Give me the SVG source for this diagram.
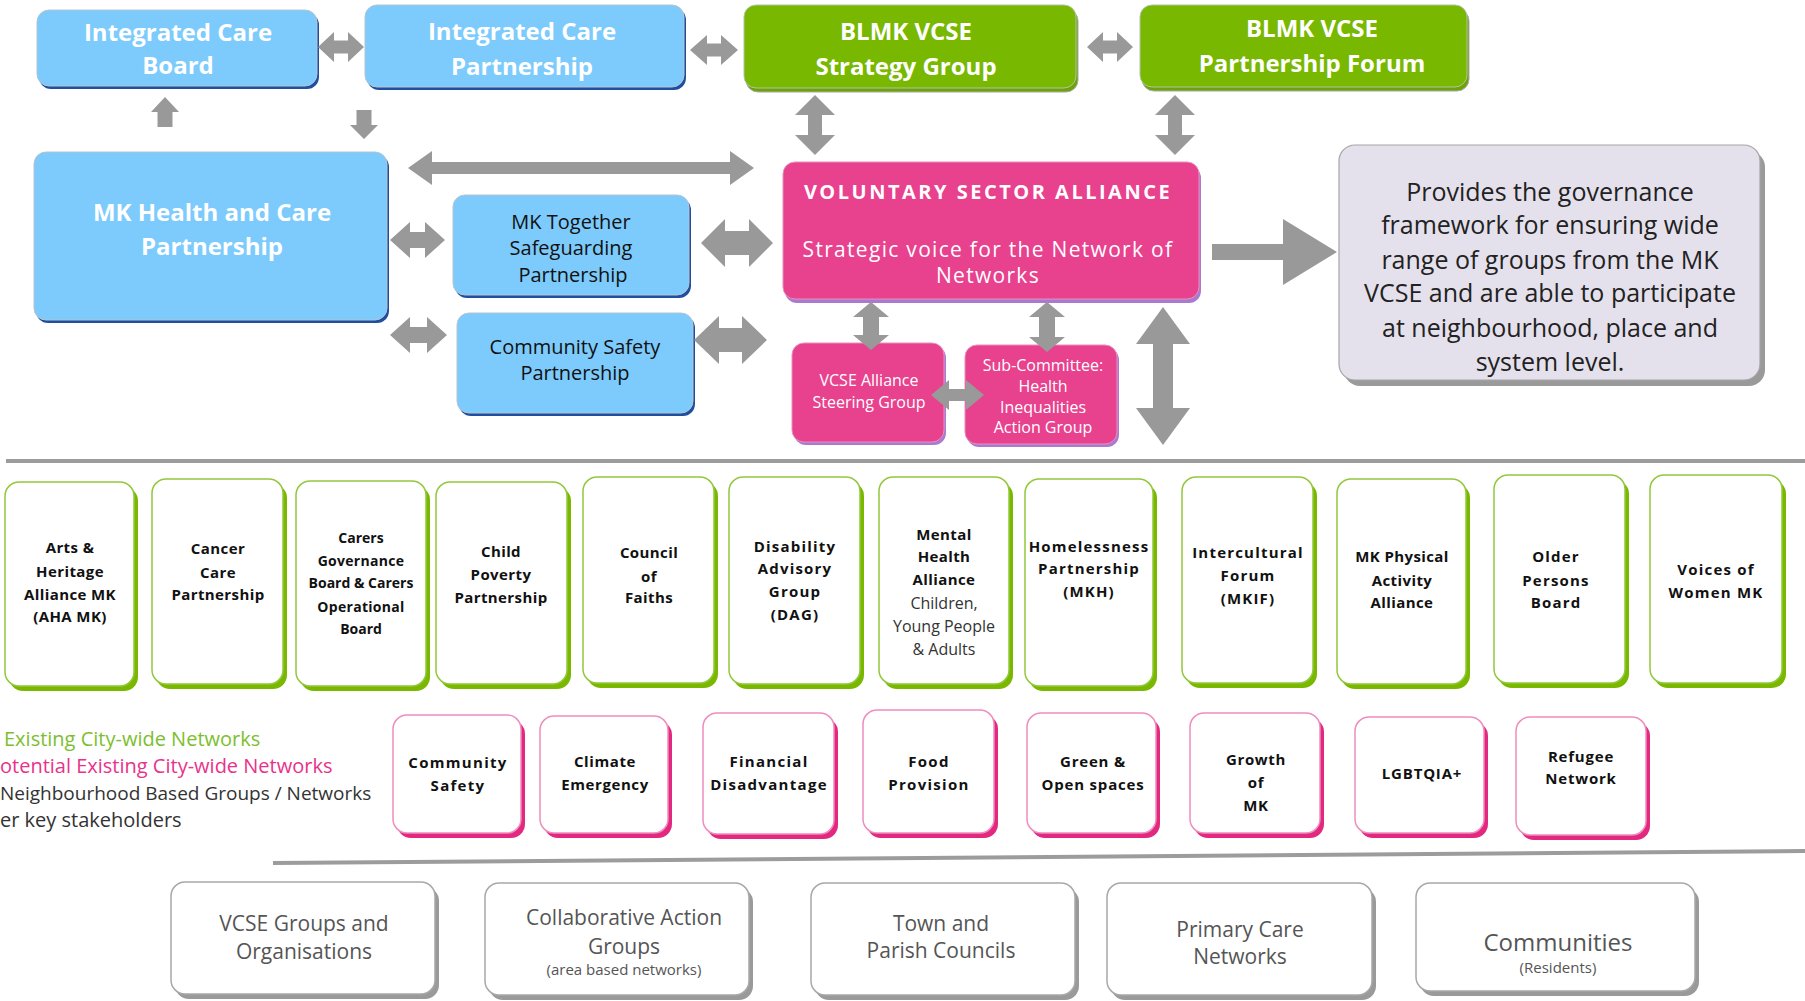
<svg xmlns="http://www.w3.org/2000/svg" width="1805" height="1001" viewBox="0 0 1805 1001">
<defs>
<style>
text{font-family:"Open Sans","Liberation Sans",sans-serif;text-anchor:middle}
.blue{fill:#7CCBFC;stroke:#b7c4cf;stroke-width:1}
.blue-sh{fill:#1F4FA0}
.green{fill:#78B800;stroke:#b5c2a8;stroke-width:1}
.green-sh{fill:#6CA308;stroke:#aaa;stroke-width:1}
.pink{fill:#E8418E;stroke:#e98fbf;stroke-width:1}
.pink-sh{fill:#A97BCF}
.desc{fill:#E5E1EC;stroke:#a5a5a5;stroke-width:1.2}
.desc-sh{fill:#9a9a9a}
.gbox{fill:#fff;stroke:#93C83E;stroke-width:1.5}
.gbox-sh{fill:#7AB800}
.pbox{fill:#fff;stroke:#EE8DBE;stroke-width:1.5}
.pbox-sh{fill:#E2287F}
.wbox{fill:#fff;stroke:#a8a8a8;stroke-width:1.5}
.wbox-sh{fill:#9a9a9a}
.arrow{fill:#999}
.tw{fill:#fff;font-weight:700;font-size:24px}
.tb{fill:#111;font-size:20px}
.tvsa{fill:#fff;font-weight:700;font-size:20px;letter-spacing:2.5px}
.tvsub{fill:#fff;font-size:21px;letter-spacing:1.3px}
.tsm{fill:#fff;font-size:16px}
.tdesc{fill:#222;font-size:25px}
.tg{fill:#111;font-weight:700;font-size:15px;letter-spacing:0.4px}
.tgr{fill:#333;font-size:16px}
.tp{fill:#111;font-weight:700;font-size:15px;letter-spacing:1.3px}
.tleg{font-size:20px;text-anchor:start}
.tbot{fill:#555;font-size:21px}
.tbs{fill:#555;font-size:15px}
.sep{stroke:#9c9c9c;stroke-width:4;fill:none}
</style>
</defs>

<!-- Top row -->
<g id="integrated-care-board">
<rect class="blue-sh" x="39" y="13" width="280" height="76" rx="12"/>
<rect class="blue" x="37" y="10" width="280" height="76" rx="12"/>
<text class="tw" x="178" y="41">Integrated Care</text>
<text class="tw" x="178" y="74">Board</text>
</g>
<g id="integrated-care-partnership">
<rect class="blue-sh" x="367" y="8" width="319" height="82" rx="12"/>
<rect class="blue" x="365" y="5" width="319" height="82" rx="12"/>
<text class="tw" x="522" y="40">Integrated Care</text>
<text class="tw" x="522" y="75">Partnership</text>
</g>
<g id="blmk-strategy-group">
<rect class="green-sh" x="746" y="9" width="332" height="83" rx="12"/>
<rect class="green" x="744" y="5" width="332" height="83" rx="12"/>
<text class="tw" x="906" y="40">BLMK VCSE</text>
<text class="tw" x="906" y="75">Strategy Group</text>
</g>
<g id="blmk-partnership-forum">
<rect class="green-sh" x="1142" y="9" width="327" height="82" rx="12"/>
<rect class="green" x="1140" y="5" width="327" height="82" rx="12"/>
<text class="tw" x="1312" y="37">BLMK VCSE</text>
<text class="tw" x="1312" y="72">Partnership Forum</text>
</g>

<!-- Middle -->
<g id="mk-health-care-partnership">
<rect class="blue-sh" x="36" y="155" width="353" height="168" rx="12"/>
<rect class="blue" x="34" y="152" width="353" height="168" rx="12"/>
<text class="tw" x="212" y="221">MK Health and Care</text>
<text class="tw" x="212" y="255">Partnership</text>
</g>
<g id="mk-together-safeguarding">
<rect class="blue-sh" x="455" y="198" width="236" height="100" rx="12"/>
<rect class="blue" x="453" y="195" width="236" height="100" rx="12"/>
<text class="tb" x="571" y="229">MK Together</text>
<text class="tb" x="571" y="255">Safeguarding</text>
<text class="tb" x="573" y="282">Partnership</text>
</g>
<g id="community-safety-partnership">
<rect class="blue-sh" x="459" y="316" width="236" height="100" rx="12"/>
<rect class="blue" x="457" y="313" width="236" height="100" rx="12"/>
<text class="tb" x="575" y="354">Community Safety</text>
<text class="tb" x="575" y="380">Partnership</text>
</g>
<g id="voluntary-sector-alliance">
<rect class="pink-sh" x="785" y="166" width="416" height="137" rx="12"/>
<rect class="pink" x="783" y="162" width="416" height="137" rx="12"/>
<text class="tvsa" x="988" y="199">VOLUNTARY SECTOR ALLIANCE</text>
<text class="tvsub" x="988" y="257">Strategic voice for the Network of</text>
<text class="tvsub" x="988" y="283">Networks</text>
</g>
<g id="vcse-alliance-steering-group">
<rect class="pink-sh" x="794" y="346" width="152" height="99" rx="12"/>
<rect class="pink" x="792" y="343" width="152" height="99" rx="12"/>
<text class="tsm" x="869" y="386">VCSE Alliance</text>
<text class="tsm" x="869" y="408">Steering Group</text>
</g>
<g id="sub-committee-health-inequalities">
<rect class="pink-sh" x="967" y="348" width="152" height="99" rx="12"/>
<rect class="pink" x="965" y="345" width="152" height="99" rx="12"/>
<text class="tsm" x="1043" y="371">Sub-Committee:</text>
<text class="tsm" x="1043" y="392">Health</text>
<text class="tsm" x="1043" y="413">Inequalities</text>
<text class="tsm" x="1043" y="433">Action Group</text>
</g>
<g id="governance-description">
<rect class="desc-sh" x="1344" y="151" width="421" height="235" rx="16"/>
<rect class="desc" x="1339" y="145" width="421" height="235" rx="16"/>
<text class="tdesc" x="1550" y="201">Provides the governance</text>
<text class="tdesc" x="1550" y="234">framework for ensuring wide</text>
<text class="tdesc" x="1550" y="269">range of groups from the MK</text>
<text class="tdesc" x="1550" y="302">VCSE and are able to participate</text>
<text class="tdesc" x="1550" y="337">at neighbourhood, place and</text>
<text class="tdesc" x="1550" y="371">system level.</text>
</g>

<!-- Connectors -->
<g id="connectors">
<polygon class="arrow" points="318,47 334,32 334,40.5 348,40.5 348,32 364,47 348,62 348,53.5 334,53.5 334,62"/>
<polygon class="arrow" points="690,50 707,35 707,43.5 721,43.5 721,35 738,50 721,65 721,56.5 707,56.5 707,65"/>
<polygon class="arrow" points="1087,47 1103,32 1103,40.5 1117,40.5 1117,32 1133,47 1117,62 1117,53.5 1103,53.5 1103,62"/>
<polygon class="arrow" points="165,97 179,112 172.5,112 172.5,127 157.5,127 157.5,112 151,112"/>
<polygon class="arrow" points="356.5,110 371.5,110 371.5,125 378,125 364,139 350,125 356.5,125"/>
<polygon class="arrow" points="815,95 835,115 822,115 822,135 835,135 815,155 795,135 808,135 808,115 795,115"/>
<polygon class="arrow" points="1175,95 1195,115 1182,115 1182,135 1195,135 1175,155 1155,135 1168,135 1168,115 1155,115"/>
<polygon class="arrow" points="408,168 432,151 432,162 730,162 730,151 754,168 730,185 730,174 432,174 432,185"/>
<polygon class="arrow" points="390,240 410,222 410,232 425,232 425,222 445,240 425,258 425,248 410,248 410,258"/>
<polygon class="arrow" points="390,335 410,317 410,327 427,327 427,317 447,335 427,353 427,343 410,343 410,353"/>
<polygon class="arrow" points="701,243 725,219 725,231 749,231 749,219 773,243 749,267 749,255 725,255 725,267"/>
<polygon class="arrow" points="694,340 719,316 719,328 742,328 742,316 767,340 742,364 742,352 719,352 719,364"/>
<polygon class="arrow" points="871,302 889,317 879,317 879,335 889,335 871,350 853,335 863,335 863,317 853,317"/>
<polygon class="arrow" points="1047,302 1065,317 1055,317 1055,337 1065,337 1047,352 1029,337 1039,337 1039,317 1029,317"/>
<polygon class="arrow" points="1163,307 1190,344 1173,344 1173,408 1190,408 1163,445 1136,408 1153,408 1153,344 1136,344"/>
<polygon class="arrow" points="931,395 949,380 949,389 966,389 966,380 984,395 966,410 966,401 949,401 949,410"/>
<polygon class="arrow" points="1212,244 1283,244 1283,219 1337,252 1283,285 1283,260 1212,260"/>
</g>

<!-- Separators -->
<line class="sep" x1="6" y1="461" x2="1805" y2="461"/>
<line class="sep" x1="273" y1="863" x2="1805" y2="851"/>

<!-- Existing city-wide networks -->
<g id="arts-heritage">
<rect class="gbox-sh" x="9" y="487" width="129" height="204" rx="14"/>
<rect class="gbox" x="5" y="482" width="129" height="204" rx="14"/>
<text class="tg" x="70" y="553">Arts &amp;</text>
<text class="tg" x="70" y="577">Heritage</text>
<text class="tg" x="70" y="600">Alliance MK</text>
<text class="tg" x="70" y="622">(AHA MK)</text>
</g>
<g id="cancer-care">
<rect class="gbox-sh" x="156" y="484" width="131" height="205" rx="14"/>
<rect class="gbox" x="152" y="479" width="131" height="205" rx="14"/>
<text class="tg" x="218" y="554">Cancer</text>
<text class="tg" x="218" y="578">Care</text>
<text class="tg" x="218" y="600">Partnership</text>
</g>
<g id="carers-governance">
<rect class="gbox-sh" x="300" y="486" width="130" height="205" rx="14"/>
<rect class="gbox" x="296" y="481" width="130" height="205" rx="14"/>
<text class="tg" x="361" y="543" style="font-size:14px;letter-spacing:0">Carers</text>
<text class="tg" x="361" y="566" style="font-size:14px;letter-spacing:0.3px">Governance</text>
<text class="tg" x="361" y="588" style="font-size:14px;letter-spacing:0">Board &amp; Carers</text>
<text class="tg" x="361" y="612" style="font-size:14px;letter-spacing:0.3px">Operational</text>
<text class="tg" x="361" y="634" style="font-size:14px;letter-spacing:0">Board</text>
</g>
<g id="child-poverty">
<rect class="gbox-sh" x="440" y="487" width="131" height="202" rx="14"/>
<rect class="gbox" x="436" y="482" width="131" height="202" rx="14"/>
<text class="tg" x="501" y="557">Child</text>
<text class="tg" x="501" y="580">Poverty</text>
<text class="tg" x="501" y="603">Partnership</text>
</g>
<g id="council-of-faiths">
<rect class="gbox-sh" x="587" y="482" width="131" height="206" rx="14"/>
<rect class="gbox" x="583" y="477" width="131" height="206" rx="14"/>
<text class="tg" x="649" y="558">Council</text>
<text class="tg" x="649" y="582">of</text>
<text class="tg" x="649" y="603">Faiths</text>
</g>
<g id="disability-advisory-group">
<rect class="gbox-sh" x="733" y="482" width="131" height="207" rx="14"/>
<rect class="gbox" x="729" y="477" width="131" height="207" rx="14"/>
<text class="tg" x="795" y="552" style="letter-spacing:1.2px">Disability</text>
<text class="tg" x="795" y="574" style="letter-spacing:1.2px">Advisory</text>
<text class="tg" x="795" y="597" style="letter-spacing:1.2px">Group</text>
<text class="tg" x="795" y="620" style="letter-spacing:1.2px">(DAG)</text>
</g>
<g id="mental-health-alliance">
<rect class="gbox-sh" x="883" y="482" width="130" height="207" rx="14"/>
<rect class="gbox" x="879" y="477" width="130" height="207" rx="14"/>
<text class="tg" x="944" y="540">Mental</text>
<text class="tg" x="944" y="562">Health</text>
<text class="tg" x="944" y="585">Alliance</text>
<text class="tgr" x="944" y="609">Children,</text>
<text class="tgr" x="944" y="632">Young People</text>
<text class="tgr" x="944" y="655">&amp; Adults</text>
</g>
<g id="homelessness-partnership">
<rect class="gbox-sh" x="1029" y="484" width="128" height="207" rx="14"/>
<rect class="gbox" x="1025" y="479" width="128" height="207" rx="14"/>
<text class="tg" x="1089" y="552" style="letter-spacing:1.2px">Homelessness</text>
<text class="tg" x="1089" y="574" style="letter-spacing:1.2px">Partnership</text>
<text class="tg" x="1089" y="597" style="letter-spacing:1.2px">(MKH)</text>
</g>
<g id="intercultural-forum">
<rect class="gbox-sh" x="1186" y="482" width="131" height="206" rx="14"/>
<rect class="gbox" x="1182" y="477" width="131" height="206" rx="14"/>
<text class="tg" x="1248" y="558" style="letter-spacing:1.2px">Intercultural</text>
<text class="tg" x="1248" y="581" style="letter-spacing:1.2px">Forum</text>
<text class="tg" x="1248" y="604" style="letter-spacing:1.2px">(MKIF)</text>
</g>
<g id="mk-physical-activity">
<rect class="gbox-sh" x="1341" y="484" width="129" height="205" rx="14"/>
<rect class="gbox" x="1337" y="479" width="129" height="205" rx="14"/>
<text class="tg" x="1402" y="562">MK Physical</text>
<text class="tg" x="1402" y="586">Activity</text>
<text class="tg" x="1402" y="608">Alliance</text>
</g>
<g id="older-persons-board">
<rect class="gbox-sh" x="1498" y="480" width="131" height="208" rx="14"/>
<rect class="gbox" x="1494" y="475" width="131" height="208" rx="14"/>
<text class="tg" x="1556" y="562" style="letter-spacing:1.2px">Older</text>
<text class="tg" x="1556" y="586" style="letter-spacing:1.2px">Persons</text>
<text class="tg" x="1556" y="608" style="letter-spacing:1.2px">Board</text>
</g>
<g id="voices-of-women">
<rect class="gbox-sh" x="1654" y="480" width="132" height="208" rx="14"/>
<rect class="gbox" x="1650" y="475" width="132" height="208" rx="14"/>
<text class="tg" x="1716" y="575" style="letter-spacing:1.2px">Voices of</text>
<text class="tg" x="1716" y="598" style="letter-spacing:1.2px">Women MK</text>
</g>

<!-- Legend -->
<g id="legend">
<text class="tleg" x="4" y="746" style="fill:#7DBE2E">Existing City-wide Networks</text>
<text class="tleg" x="0" y="773" style="fill:#E8338A">otential Existing City-wide Networks</text>
<text class="tleg" x="0" y="800" style="fill:#333;font-size:19px">Neighbourhood Based Groups / Networks</text>
<text class="tleg" x="0" y="827" style="fill:#333">er key stakeholders</text>
</g>

<!-- Potential city-wide networks -->
<g id="community-safety">
<rect class="pbox-sh" x="397" y="720" width="128" height="118" rx="14"/>
<rect class="pbox" x="393" y="715" width="128" height="118" rx="14"/>
<text class="tp" x="458" y="768">Community</text>
<text class="tp" x="458" y="791">Safety</text>
</g>
<g id="climate-emergency">
<rect class="pbox-sh" x="544" y="721" width="128" height="117" rx="14"/>
<rect class="pbox" x="540" y="716" width="128" height="117" rx="14"/>
<text class="tp" x="605" y="767" style="letter-spacing:0.6px">Climate</text>
<text class="tp" x="605" y="790" style="letter-spacing:0.6px">Emergency</text>
</g>
<g id="financial-disadvantage">
<rect class="pbox-sh" x="707" y="718" width="131" height="121" rx="14"/>
<rect class="pbox" x="703" y="713" width="131" height="121" rx="14"/>
<text class="tp" x="769" y="767">Financial</text>
<text class="tp" x="769" y="790">Disadvantage</text>
</g>
<g id="food-provision">
<rect class="pbox-sh" x="867" y="715" width="131" height="123" rx="14"/>
<rect class="pbox" x="863" y="710" width="131" height="123" rx="14"/>
<text class="tp" x="929" y="767">Food</text>
<text class="tp" x="929" y="790">Provision</text>
</g>
<g id="green-open-spaces">
<rect class="pbox-sh" x="1031" y="718" width="129" height="120" rx="14"/>
<rect class="pbox" x="1027" y="713" width="129" height="120" rx="14"/>
<text class="tp" x="1093" y="767" style="letter-spacing:0.8px">Green &amp;</text>
<text class="tp" x="1093" y="790" style="letter-spacing:0.8px">Open spaces</text>
</g>
<g id="growth-of-mk">
<rect class="pbox-sh" x="1194" y="718" width="130" height="120" rx="14"/>
<rect class="pbox" x="1190" y="713" width="130" height="120" rx="14"/>
<text class="tp" x="1256" y="765" style="letter-spacing:0.6px">Growth</text>
<text class="tp" x="1256" y="788" style="letter-spacing:0.6px">of</text>
<text class="tp" x="1256" y="811" style="letter-spacing:0.6px">MK</text>
</g>
<g id="lgbtqia">
<rect class="pbox-sh" x="1359" y="722" width="129" height="116" rx="14"/>
<rect class="pbox" x="1355" y="717" width="129" height="116" rx="14"/>
<text class="tp" x="1422" y="779" style="letter-spacing:0.8px">LGBTQIA+</text>
</g>
<g id="refugee-network">
<rect class="pbox-sh" x="1520" y="722" width="130" height="118" rx="14"/>
<rect class="pbox" x="1516" y="717" width="130" height="118" rx="14"/>
<text class="tp" x="1581" y="762" style="letter-spacing:0.8px">Refugee</text>
<text class="tp" x="1581" y="784" style="letter-spacing:0.8px">Network</text>
</g>

<!-- Neighbourhood / other stakeholders -->
<g id="vcse-groups">
<rect class="wbox-sh" x="175" y="887" width="264" height="112" rx="14"/>
<rect class="wbox" x="171" y="882" width="264" height="112" rx="14"/>
<text class="tbot" x="304" y="931">VCSE Groups and</text>
<text class="tbot" x="304" y="959">Organisations</text>
</g>
<g id="collaborative-action-groups">
<rect class="wbox-sh" x="489" y="888" width="264" height="112" rx="14"/>
<rect class="wbox" x="485" y="883" width="264" height="112" rx="14"/>
<text class="tbot" x="624" y="925">Collaborative Action</text>
<text class="tbot" x="624" y="954">Groups</text>
<text class="tbs" x="624" y="975">(area based networks)</text>
</g>
<g id="town-parish-councils">
<rect class="wbox-sh" x="815" y="888" width="264" height="112" rx="14"/>
<rect class="wbox" x="811" y="883" width="264" height="112" rx="14"/>
<text class="tbot" x="941" y="931">Town  and</text>
<text class="tbot" x="941" y="958">Parish Councils</text>
</g>
<g id="primary-care-networks">
<rect class="wbox-sh" x="1111" y="888" width="265" height="112" rx="14"/>
<rect class="wbox" x="1107" y="883" width="265" height="112" rx="14"/>
<text class="tbot" x="1240" y="937">Primary Care</text>
<text class="tbot" x="1240" y="964">Networks</text>
</g>
<g id="communities">
<rect class="wbox-sh" x="1420" y="888" width="279" height="108" rx="14"/>
<rect class="wbox" x="1416" y="883" width="279" height="108" rx="14"/>
<text class="tbot" x="1558" y="951" style="font-size:24px">Communities</text>
<text class="tbs" x="1558" y="973">(Residents)</text>
</g>
</svg>
